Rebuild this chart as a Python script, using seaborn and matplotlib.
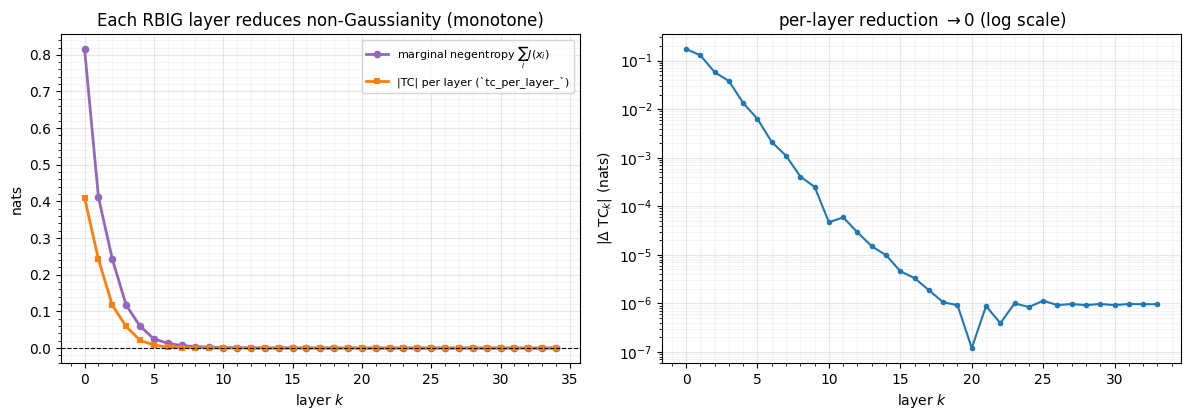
import matplotlib
matplotlib.use("Agg")
import matplotlib.pyplot as plt
from matplotlib.ticker import AutoMinorLocator
import numpy as np
import pandas as pd
import seaborn as sns

layers_left = list(range(35))
negentropy = [0.816, 0.412, 0.243, 0.117, 0.060, 0.025, 0.013, 0.007, 0.004, 0.0025,
              0.0015, 0.001, 0.0007, 0.0005, 0.0004, 0.0003, 0.0002, 0.00015, 0.0001, 0.0001,
              0.0001, 0.0001, 0.0001, 0.0001, 0.0001, 0.0001, 0.0001, 0.0001, 0.0001, 0.0001,
              0.0001, 0.0001, 0.0001, 0.0001, 0.0001]
tc_per_layer = [0.41, 0.242, 0.117, 0.059, 0.021, 0.0085, 0.0022, 0.0011, 0.0007, 0.0003,
                0.00008, 0.00004, 0.00002, 0.00001, 0.000005, 0.000002, 0.000001, 0.0000008, 0.0000006, 0.0000005,
                0.0000004, 0.0000004, 0.0000003, 0.0000003, 0.0000003, 0.0000002, 0.0000002, 0.0000002, 0.0000002, 0.0000002,
                0.0000001, 0.0000001, 0.0000001, 0.0000001, 0.0000001]

layers_right = list(range(34))
delta_tc = [0.174, 0.129, 0.058, 0.038, 0.0134, 0.0063, 0.0021, 0.0011, 0.00041, 0.00025,
            4.7e-5, 5.9e-5, 2.9e-5, 1.5e-5, 9.8e-6, 4.6e-6, 3.3e-6, 1.87e-6, 1.05e-6, 9.2e-7,
            1.2e-7, 8.8e-7, 3.9e-7, 1.0e-6, 8.4e-7, 1.13e-6, 9.2e-7, 9.7e-7, 9.2e-7, 9.7e-7,
            9.2e-7, 9.7e-7, 9.6e-7, 9.6e-7]

df_left = pd.DataFrame({"layer": layers_left, "neg": negentropy, "tc": tc_per_layer})
df_right = pd.DataFrame({"layer": layers_right, "dtc": delta_tc})

fig, (ax1, ax2) = plt.subplots(1, 2, figsize=(11.89, 4.2), dpi=100)
fig.subplots_adjust(left=0.0513, right=0.9933, top=0.919, bottom=0.1357, wspace=0.16)

sns.lineplot(data=df_left, x="layer", y="neg", ax=ax1, color="#9467bd", marker="o",
             markersize=5.5, linewidth=2, markeredgewidth=0,
             label=r"marginal negentropy $\sum_i J(x_i)$")
sns.lineplot(data=df_left, x="layer", y="tc", ax=ax1, color="#ff7f0e", marker="s",
             markersize=4.5, linewidth=2, markeredgewidth=0,
             label=r"|TC| per layer (`tc_per_layer_`)")
ax1.axhline(0, color="black", linestyle="--", linewidth=0.8)
ax1.set_title("Each RBIG layer reduces non-Gaussianity (monotone)")
ax1.set_xlabel("layer $k$")
ax1.set_ylabel("nats")
ax1.legend(fontsize=8, loc="upper right")
ax1.xaxis.set_minor_locator(AutoMinorLocator())
ax1.yaxis.set_minor_locator(AutoMinorLocator())
ax1.grid(True, which="major", alpha=0.3)
ax1.grid(True, which="minor", alpha=0.12)

sns.lineplot(data=df_right, x="layer", y="dtc", ax=ax2, color="#1f77b4", marker="o",
             markersize=4, linewidth=1.5, markeredgewidth=0)
ax2.set_yscale("log")
ax2.set_title(r"per-layer reduction $\to 0$ (log scale)")
ax2.set_xlabel("layer $k$")
ax2.set_ylabel(r"$|\Delta\ \mathrm{TC}_k|$ (nats)")
ax2.xaxis.set_minor_locator(AutoMinorLocator())
ax2.grid(True, which="major", alpha=0.3)
ax2.grid(True, which="minor", alpha=0.12)

fig.savefig("out.png", dpi=100)
